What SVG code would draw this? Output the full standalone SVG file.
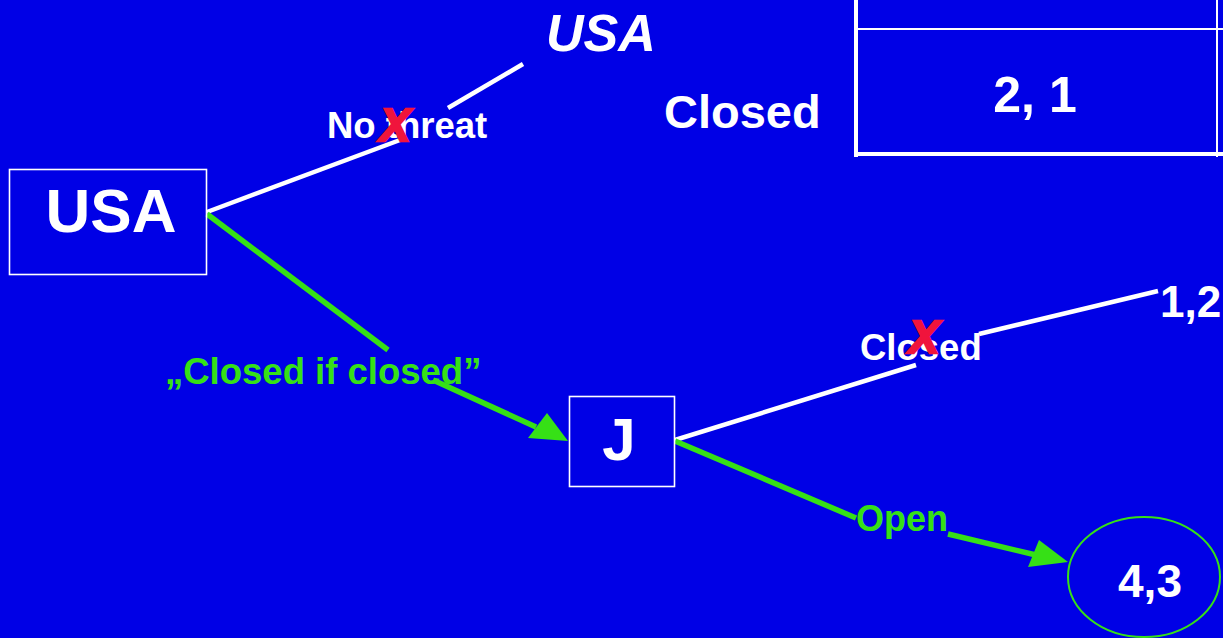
<svg xmlns="http://www.w3.org/2000/svg" width="1223" height="638" viewBox="0 0 1223 638">
<style>
.t{font-family:"Liberation Sans",Arial,sans-serif;font-weight:bold;fill:#fff}
.g{fill:#36E016}
.x{font-family:"Liberation Sans",Arial,sans-serif;font-weight:bold;font-style:italic;fill:#F0143C;stroke:#F0143C;stroke-width:2.5;font-size:46px}
.box{fill:none;stroke:#fff;stroke-width:1.6}
.wl{stroke:#fff;stroke-width:4.5;fill:none}
.gl{stroke:#36E016;stroke-width:5.5;fill:none}
</style>
<rect width="1223" height="638" fill="#0000E6"/>
<g id="payoff-table">
<line x1="856" y1="0" x2="856" y2="157" stroke="#fff" stroke-width="4"/>
<line x1="856" y1="29" x2="1223" y2="29" stroke="#fff" stroke-width="2"/>
<line x1="1217" y1="0" x2="1217" y2="157" stroke="#fff" stroke-width="2"/>
<line x1="854" y1="154" x2="1223" y2="154" stroke="#fff" stroke-width="4"/>
<text class="t" x="1035" y="112" font-size="50" text-anchor="middle">2, 1</text>
</g>
<g id="label-closed-top"><text class="t" x="664" y="128" font-size="47">Closed</text></g>
<g id="usa-top"><text class="t" x="546" y="51" font-size="52" font-style="italic">USA</text></g>
<g id="connectors">
<polyline class="wl" points="207,212 400,140"/>
<polyline class="wl" points="448,108 523,64"/>
<polyline class="wl" points="675,440 916,365"/>
<polyline class="wl" points="979,334 1158,291"/>
<line class="gl" x1="207" y1="214" x2="388" y2="350"/>
<line class="gl" x1="433" y1="380" x2="536" y2="427"/>
<path d="M568,441 L528,438 L547,413 Z" fill="#36E016"/>
<line class="gl" x1="675" y1="441" x2="856" y2="518"/>
<line class="gl" x1="948" y1="534" x2="1036" y2="555"/>
<path d="M1068,562 L1028,567 L1039,540 Z" fill="#36E016"/>
</g>
<g id="node-usa">
<rect class="box" x="9.5" y="169.5" width="197" height="105"/>
<text class="t" x="111" y="232" font-size="62" text-anchor="middle">USA</text>
</g>
<g id="label-no-threat">
<text class="t" x="327" y="138" font-size="36.5">No threat</text>
<text class="x" x="395" y="141" text-anchor="middle">X</text>
</g>
<g id="label-closed-if-closed"><text class="t g" x="165" y="384" font-size="36.5">„Closed if closed”</text></g>
<g id="node-j">
<rect class="box" x="569.5" y="396.5" width="105" height="90"/>
<text class="t" x="619" y="460" font-size="60" text-anchor="middle">J</text>
</g>
<g id="label-closed">
<text class="t" x="860" y="360" font-size="36.5">Closed</text>
<text class="x" x="924" y="353" text-anchor="middle">X</text>
</g>
<g id="payoff-12"><text class="t" x="1160" y="317" font-size="44">1,2</text></g>
<g id="label-open"><text class="t g" x="856" y="531" font-size="36">Open</text></g>
<g id="payoff-43">
<ellipse cx="1144" cy="577" rx="76" ry="60" fill="none" stroke="#36E016" stroke-width="2"/>
<text class="t" x="1150" y="597" font-size="46" text-anchor="middle">4,3</text>
</g>
</svg>
